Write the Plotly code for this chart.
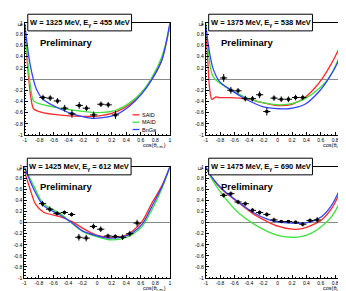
import plotly.graph_objects as go

# ---------------- data ----------------
W_values = [1325, 1375, 1425, 1475]
Egamma_values = [455, 538, 612, 690]

data_x_1 = [-0.75, -0.65, -0.55, -0.45, -0.35, -0.25, -0.15, -0.05, 0.05, 0.15, 0.25]
data_y_1 = [-0.33, -0.34, -0.39, -0.52, -0.62, -0.47, -0.52, -0.64, -0.45, -0.46, -0.64]
err_y_1 = [0.05, 0.05, 0.05, 0.06, 0.07, 0.06, 0.05, 0.06, 0.05, 0.05, 0.07]

data_x_2 = [-0.75, -0.65, -0.55, -0.45, -0.35, -0.25, -0.15, -0.05, 0.05, 0.15, 0.25, 0.35]
data_y_2 = [0.02, -0.20, -0.21, -0.35, -0.35, -0.28, -0.58, -0.34, -0.36, -0.36, -0.33, -0.33]
err_y_2 = [0.07, 0.06, 0.05, 0.05, 0.05, 0.06, 0.07, 0.05, 0.05, 0.05, 0.05, 0.05]

data_x_3 = [-0.75, -0.65, -0.55, -0.45, -0.35, -0.25, -0.15, -0.05, 0.05, 0.15, 0.25, 0.35, 0.45, 0.55]
data_y_3 = [0.34, 0.24, 0.165, 0.18, 0.146, -0.265, -0.28, -0.07, -0.12, -0.24, -0.25, -0.265, -0.20, -0.01]
err_y_3 = [0.05, 0.05, 0.04, 0.04, 0.04, 0.06, 0.06, 0.05, 0.05, 0.04, 0.04, 0.05, 0.05, 0.06]

data_x_4 = [-0.75, -0.65, -0.55, -0.45, -0.35, -0.25, -0.15, -0.05, 0.05, 0.15, 0.25, 0.35, 0.45, 0.55]
data_y_4 = [0.49, 0.52, 0.37, 0.34, 0.22, 0.18, 0.147, 0.047, 0.018, 0.018, 0.006, -0.03, 0.035, 0.047]
err_y_4 = [0.04, 0.04, 0.04, 0.04, 0.04, 0.04, 0.04, 0.04, 0.03, 0.03, 0.03, 0.04, 0.04, 0.05]

said_x_1 = [-1, -0.96, -0.92, -0.88, -0.8, -0.6, -0.3, 0, 0.25, 0.45, 0.61, 0.75, 0.89, 1]
said_y_1 = [0.9, 0.2, -0.3, -0.53, -0.58, -0.63, -0.66, -0.66, -0.59, -0.45, -0.24, -0.01, 0.34, 0.95]
maid_x_1 = [-1, -0.96, -0.92, -0.88, -0.8, -0.6, -0.3, 0, 0.25, 0.45, 0.61, 0.75, 0.89, 1]
maid_y_1 = [0.92, 0.3, -0.15, -0.39, -0.44, -0.5, -0.56, -0.6, -0.56, -0.42, -0.24, 0.02, 0.4, 0.92]
bnga_x_1 = [-1, -0.93, -0.84, -0.75, -0.52, -0.3, -0.07, 0.07, 0.25, 0.45, 0.61, 0.75, 0.89, 1]
bnga_y_1 = [0.98, 0.28, -0.18, -0.36, -0.53, -0.64, -0.70, -0.69, -0.64, -0.475, -0.27, -0.01, 0.34, 1.0]

said_x_2 = [-1, -0.97, -0.945, -0.914, -0.86, -0.81, -0.67, -0.44, -0.21, 0.02, 0.2, 0.38, 0.52, 0.61, 0.75, 0.885, 1]
said_y_2 = [0.92, 0.3, -0.18, -0.36, -0.32, -0.33, -0.33, -0.35, -0.42, -0.475, -0.45, -0.33, -0.155, -0.01, 0.28, 0.63, 0.98]
maid_x_2 = [-1, -0.97, -0.945, -0.9, -0.855, -0.67, -0.44, -0.21, 0.02, 0.2, 0.38, 0.565, 0.70, 0.84, 1]
maid_y_2 = [1.0, 0.6, 0.28, 0.05, -0.02, -0.18, -0.33, -0.42, -0.46, -0.44, -0.35, -0.18, 0.0, 0.34, 0.95]
bnga_x_2 = [-1, -0.945, -0.9, -0.81, -0.67, -0.44, -0.21, 0.02, 0.15, 0.38, 0.565, 0.70, 0.84, 1]
bnga_y_2 = [0.95, 0.46, 0.195, -0.04, -0.18, -0.36, -0.49, -0.53, -0.53, -0.45, -0.24, -0.01, 0.31, 0.98]

said_x_3 = [-1, -0.92, -0.85, -0.74, -0.51, -0.35, -0.2, -0.02, 0.16, 0.35, 0.48, 0.62, 0.75, 0.89, 1]
said_y_3 = [0.93, 0.6, 0.34, 0.19, 0.105, 0.02, -0.1, -0.22, -0.265, -0.25, -0.16, 0.02, 0.34, 0.66, 1.0]
maid_x_3 = [-1, -0.87, -0.74, -0.51, -0.35, -0.2, -0.02, 0.16, 0.35, 0.48, 0.62, 0.75, 0.89, 1]
maid_y_3 = [0.99, 0.66, 0.34, 0.165, -0.01, -0.16, -0.25, -0.31, -0.29, -0.22, -0.07, 0.22, 0.61, 1.0]
bnga_x_3 = [-1, -0.87, -0.74, -0.51, -0.35, -0.2, -0.02, 0.16, 0.35, 0.48, 0.62, 0.75, 0.89, 1]
bnga_y_3 = [1.0, 0.6, 0.31, 0.135, 0.0, -0.15, -0.23, -0.28, -0.26, -0.19, -0.03, 0.28, 0.64, 1.0]

said_x_4 = [-1, -0.9, -0.76, -0.556, -0.35, -0.144, 0.016, 0.2, 0.34, 0.47, 0.61, 0.75, 0.885, 1]
said_y_4 = [1, 0.78, 0.58, 0.37, 0.165, 0.018, -0.07, -0.12, -0.11, -0.05, 0.047, 0.25, 0.6, 0.99]
maid_x_4 = [-1, -0.9, -0.76, -0.556, -0.35, -0.144, 0.016, 0.2, 0.34, 0.47, 0.61, 0.75, 0.885, 1]
maid_y_4 = [1, 0.75, 0.49, 0.19, -0.01, -0.16, -0.235, -0.265, -0.25, -0.19, -0.07, 0.105, 0.43, 0.99]
bnga_x_4 = [-1, -0.9, -0.76, -0.556, -0.35, -0.144, 0.016, 0.2, 0.34, 0.47, 0.61, 0.75, 0.885, 0.95, 1]
bnga_y_4 = [1, 0.79, 0.59, 0.38, 0.19, 0.06, 0.006, -0.01, -0.01, 0.018, 0.105, 0.31, 0.66, 0.9, 1]

model_names = ["SAID", "MAID", "BnGa"]
model_colors = ["#ff2a2a", "#3fe23f", "#3344ff"]

tick_vals = [-1, -0.8, -0.6, -0.4, -0.2, 0, 0.2, 0.4, 0.6, 0.8, 1]
tick_text = ["-1", "-0.8", "-0.6", "-0.4", "-0.2", "0", "0.2", "0.4", "0.6", "0.8", "1"]

# ---------------- figure ----------------
W, H = 346, 291
fig = go.Figure()

panels = [
    (data_x_1, data_y_1, err_y_1, [(said_x_1, said_y_1), (maid_x_1, maid_y_1), (bnga_x_1, bnga_y_1)]),
    (data_x_2, data_y_2, err_y_2, [(said_x_2, said_y_2), (maid_x_2, maid_y_2), (bnga_x_2, bnga_y_2)]),
    (data_x_3, data_y_3, err_y_3, [(said_x_3, said_y_3), (maid_x_3, maid_y_3), (bnga_x_3, bnga_y_3)]),
    (data_x_4, data_y_4, err_y_4, [(said_x_4, said_y_4), (maid_x_4, maid_y_4), (bnga_x_4, bnga_y_4)]),
]

# pixel boxes of plot areas: (left, right, top, bottom)
boxes = [(15, 161.7, 12.3, 126.7), (198, 343.5, 12.3, 126.7),
         (14.5, 161.7, 159.3, 272.7), (198, 343.5, 159.3, 272.7)]

font_fam = "Liberation Sans, Arial, sans-serif"

for i, (dx, dy, ey, models) in enumerate(panels):
    n = i + 1
    xa = "x" if n == 1 else f"x{n}"
    ya = "y" if n == 1 else f"y{n}"
    for (mx, my), name, col in zip(models, model_names, model_colors):
        fig.add_trace(go.Scatter(x=mx, y=my, mode="lines", name=name,
                                 line=dict(color=col, width=1.3, shape="spline", smoothing=0.8),
                                 xaxis=xa, yaxis=ya, showlegend=False, hoverinfo="skip"))
    fig.add_trace(go.Scatter(x=dx, y=dy, mode="markers",
                             marker=dict(color="black", size=3, symbol="square"),
                             error_x=dict(type="constant", value=0.05, color="black", thickness=1, width=0),
                             error_y=dict(type="data", array=ey, color="black", thickness=1, width=0),
                             xaxis=xa, yaxis=ya, showlegend=False))

    l, r, t, b = boxes[i]
    axcommon = dict(range=[-1, 1], showgrid=False, showline=True, linecolor="black", linewidth=1,
                    mirror=True, ticks="inside", ticklen=3, tickwidth=1, tickcolor="black",
                    tickvals=tick_vals, ticktext=tick_text,
                    tickfont=dict(size=5, family=font_fam, color="black"),
                    minor=dict(ticks="inside", ticklen=1.5, dtick=0.05, tickcolor="black", showgrid=False))
    xkey = "xaxis" if n == 1 else f"xaxis{n}"
    ykey = "yaxis" if n == 1 else f"yaxis{n}"
    fig.update_layout({
        xkey: dict(domain=[l / W, r / W], anchor=ya, zeroline=False, **axcommon),
        ykey: dict(domain=[1 - b / H, 1 - t / H], anchor=xa, zeroline=True,
                   zerolinecolor="#8a8a8a", zerolinewidth=1, **axcommon),
    })

    # title box
    bx0, bx1 = l + 3, l + 108
    by0, by1 = t - 9, t + 8
    fig.add_shape(type="rect", xref="paper", yref="paper",
                  x0=bx0 / W, x1=bx1 / W, y0=1 - by1 / H, y1=1 - by0 / H,
                  line=dict(color="black", width=1), fillcolor="white", layer="above")
    fig.add_annotation(xref="paper", yref="paper", x=(bx0 + bx1) / 2 / W, y=1 - (by0 + by1) / 2 / H,
                       text=f"<b>W = {W_values[i]} MeV, E<sub>γ</sub> = {Egamma_values[i]} MeV</b>",
                       showarrow=False, font=dict(size=7.5, family=font_fam, color="black"),
                       xanchor="center", yanchor="middle")
    # Preliminary
    fig.add_annotation(xref="paper", yref="paper", x=(l + 42) / W, y=1 - (t + 20) / H,
                       text="<b>Preliminary</b>", showarrow=False,
                       font=dict(size=9.5, family=font_fam, color="black"),
                       xanchor="center", yanchor="middle")
    # axis titles
    fig.add_annotation(xref="paper", yref="paper", x=(r - 3) / W, y=1 - (b + 10.5) / H,
                       text="cos(θ<sub>c.m.</sub>)", showarrow=False,
                       font=dict(size=5.5, family=font_fam, color="black"),
                       xanchor="right", yanchor="middle", borderpad=0)
    fig.add_annotation(xref="paper", yref="paper", x=(l - 5) / W, y=1 - (t + 1.5) / H,
                       text="E", textangle=-90, showarrow=False,
                       font=dict(size=5.5, family=font_fam, color="black"),
                       xanchor="center", yanchor="middle")

# legend (panel 1)
leg_rows = [106, 113.5, 121]
for name, col, yy in zip(model_names, model_colors, leg_rows):
    fig.add_shape(type="line", xref="paper", yref="paper",
                  x0=124 / W, x1=131 / W, y0=1 - yy / H, y1=1 - yy / H,
                  line=dict(color=col, width=1.3))
    fig.add_annotation(xref="paper", yref="paper", x=132 / W, y=1 - yy / H,
                       text=name, showarrow=False,
                       font=dict(size=5.5, family=font_fam, color="black"),
                       xanchor="left", yanchor="middle")

fig.update_layout(width=W, height=H, autosize=False,
                  margin=dict(l=0, r=0, t=0, b=0),
                  paper_bgcolor="white", plot_bgcolor="white", showlegend=False)

fig.write_html("out.html")
